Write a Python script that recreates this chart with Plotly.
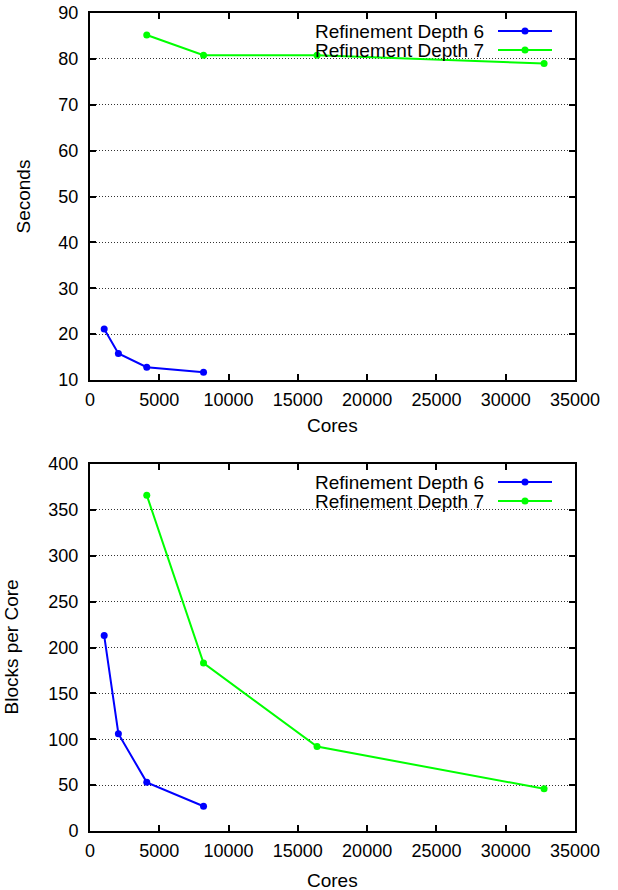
import plotly.graph_objects as go

# ---- data ----
cores_d6 = [1024, 2048, 4096, 8192]
cores_d7 = [4096, 8192, 16384, 32768]
seconds_d6 = [21.1, 15.8, 12.8, 11.7]
seconds_d7 = [85.2, 80.8, 80.8, 79.0]
blocks_d6 = [213, 106, 53, 27]
blocks_d7 = [366, 183, 92, 46]
series_names = ["Refinement Depth 6", "Refinement Depth 7"]
series_colors = ["#0000ff", "#00ff00"]
x_title = "Cores"
y_titles = ["Seconds", "Blocks per Core"]

W, H = 618, 890
L, R, T, B = 90, 43, 13, 59
PH = H - T - B


def py(p):
    return (H - B - p) / PH


def px(p):
    return (p - L) / (W - L - R)


FONT = "Liberation Sans, Arial, Helvetica, sans-serif"
FS_TICK = 18
FS_TEXT = 19

fig = go.Figure()

for (xs, ys, name, col) in [
    (cores_d6, seconds_d6, series_names[0], series_colors[0]),
    (cores_d7, seconds_d7, series_names[1], series_colors[1]),
]:
    fig.add_trace(go.Scatter(x=xs, y=ys, mode="lines+markers", name=name,
                             line=dict(color=col, width=2),
                             marker=dict(color=col, size=7),
                             xaxis="x", yaxis="y", showlegend=False))
for (xs, ys, name, col) in [
    (cores_d6, blocks_d6, series_names[0], series_colors[0]),
    (cores_d7, blocks_d7, series_names[1], series_colors[1]),
]:
    fig.add_trace(go.Scatter(x=xs, y=ys, mode="lines+markers", name=name,
                             line=dict(color=col, width=2),
                             marker=dict(color=col, size=7),
                             xaxis="x2", yaxis="y2", showlegend=False))

common_axis = dict(showline=True, linecolor="black", linewidth=2, mirror="ticks",
                   ticks="inside", ticklen=6, tickwidth=1.5, tickcolor="black",
                   zeroline=False, tickfont=dict(family=FONT, size=FS_TICK, color="black"),
                   tickformat="d", automargin=False)

xax = dict(range=[0, 35000], dtick=5000, tick0=0, showgrid=False,
           ticklabelstandoff=2, **common_axis)
yax_grid = dict(showgrid=True, gridcolor="#333", gridwidth=1, griddash="1px,2px",
                ticklabelstandoff=6)
fig.update_layout(
    xaxis=dict(domain=[0, 1], anchor="y", **xax),
    xaxis2=dict(domain=[0, 1], anchor="y2", **xax),
    yaxis=dict(domain=[py(380), 1], anchor="x", range=[10, 90], dtick=10, tick0=0,
               **yax_grid, **common_axis),
    yaxis2=dict(domain=[0, py(464)], anchor="x2", range=[0, 400], dtick=50, tick0=0,
                **yax_grid, **common_axis),
)

shapes = []
annotations = []

# key areas (opaque) and key samples
for (top_p, row_ps) in [(13, (31, 50)), (464, (482, 501))]:
    shapes.append(dict(type="rect", xref="paper", yref="paper", layer="between",
                       x0=px(280), x1=px(574), y0=py(top_p + 50), y1=py(top_p + 1),
                       fillcolor="white", line=dict(width=0)))
    for name, col, rp in zip(series_names, series_colors, row_ps):
        annotations.append(dict(text=name, xref="paper", yref="paper", x=px(486), y=py(rp),
                                xanchor="right", yanchor="middle", showarrow=False,
                                font=dict(family=FONT, size=FS_TEXT, color="black")))
        shapes.append(dict(type="line", xref="paper", yref="paper", layer="above",
                           x0=px(498), x1=px(552), y0=py(rp), y1=py(rp),
                           line=dict(color=col, width=2)))
        shapes.append(dict(type="circle", xref="paper", yref="paper", layer="above",
                           xsizemode="pixel", ysizemode="pixel",
                           xanchor=px(525), yanchor=py(rp),
                           x0=-3.5, x1=3.5, y0=-3.5, y1=3.5,
                           fillcolor=col, line=dict(width=0)))

# axis titles
for yc in [425, 881]:
    annotations.append(dict(text=x_title, xref="paper", yref="paper", x=0.5, y=py(yc),
                            xanchor="center", yanchor="middle", showarrow=False,
                            font=dict(family=FONT, size=FS_TEXT, color="black")))
for title, xc, yc in [(y_titles[0], 23, (13 + 380) / 2), (y_titles[1], 11, (464 + 831) / 2)]:
    annotations.append(dict(text=title, xref="paper", yref="paper", x=0, y=py(yc),
                            xshift=xc - L, xanchor="center", yanchor="middle",
                            textangle=-90, showarrow=False,
                            font=dict(family=FONT, size=FS_TEXT, color="black")))

fig.update_layout(
    width=W, height=H,
    margin=dict(l=L, r=R, t=T, b=B, autoexpand=False),
    paper_bgcolor="white", plot_bgcolor="white",
    showlegend=False,
    shapes=shapes, annotations=annotations,
    font=dict(family=FONT, size=FS_TEXT, color="black"),
)

fig.write_html("out.html", config={"displayModeBar": False},
               post_script="document.body.style.margin='0';document.body.style.padding='0';document.body.style.overflow='hidden';")
